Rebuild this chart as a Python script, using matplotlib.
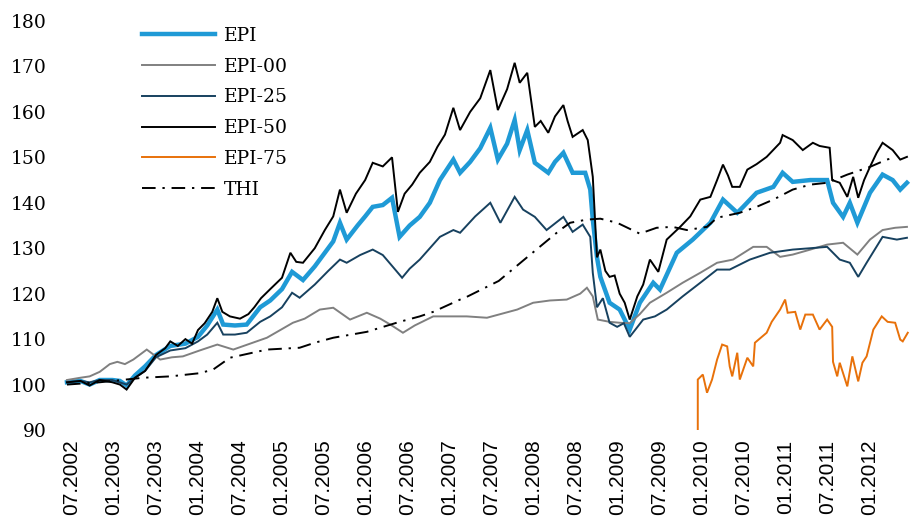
import matplotlib
matplotlib.use("Agg")
import matplotlib.pyplot as plt

# ---- data (decimal year, index value) ----
epi = [(2002.44, 100.5), (2002.60, 100.8), (2002.71, 100), (2002.83, 101), (2002.98, 101),
       (2003.07, 100.8), (2003.15, 99.8), (2003.25, 102), (2003.37, 104), (2003.50, 106.5),
       (2003.67, 108.5), (2003.85, 109), (2004.00, 110.5), (2004.11, 113), (2004.23, 116.5),
       (2004.30, 113.2), (2004.44, 113), (2004.58, 113.2), (2004.74, 117), (2004.86, 118.5),
       (2005.00, 121), (2005.12, 124.8), (2005.25, 123), (2005.39, 126), (2005.51, 129),
       (2005.61, 131.5), (2005.69, 135.6), (2005.77, 131.9), (2005.90, 135), (2005.99, 137),
       (2006.08, 139.1), (2006.20, 139.5), (2006.31, 141.1), (2006.40, 132.5), (2006.52, 135),
       (2006.64, 136.9), (2006.76, 140), (2006.88, 145), (2007.04, 149.5), (2007.12, 146.6),
       (2007.24, 149), (2007.36, 152), (2007.48, 156.5), (2007.57, 149.5), (2007.68, 153),
       (2007.77, 158.2), (2007.83, 151.6), (2007.92, 156), (2008.01, 148.8), (2008.17, 146.6),
       (2008.25, 149), (2008.35, 151), (2008.46, 146.6), (2008.61, 146.6), (2008.67, 142.9),
       (2008.70, 136.3), (2008.75, 128), (2008.79, 123.7), (2008.90, 118), (2009.02, 116.5),
       (2009.14, 112.1), (2009.26, 118), (2009.42, 122.4), (2009.50, 120.9), (2009.70, 129),
       (2009.89, 131.9), (2010.10, 135.6), (2010.25, 140.7), (2010.42, 137.8), (2010.49, 139.1),
       (2010.65, 142.2), (2010.85, 143.5), (2010.96, 146.6), (2011.08, 144.6), (2011.29, 145),
       (2011.49, 145), (2011.56, 140), (2011.68, 136.9), (2011.76, 140), (2011.85, 135.6),
       (2012.00, 142.2), (2012.15, 146.2), (2012.27, 145), (2012.36, 142.9), (2012.44, 144.4)]

epi00 = [(2002.44, 101), (2002.60, 101.5), (2002.71, 101.8), (2002.83, 102.8), (2002.95, 104.5),
         (2003.04, 105), (2003.13, 104.5), (2003.23, 105.5), (2003.39, 107.7), (2003.55, 105.5),
         (2003.69, 106), (2003.82, 106.2), (2004.02, 107.5), (2004.23, 108.8), (2004.42, 107.7),
         (2004.62, 109), (2004.82, 110.3), (2004.98, 112), (2005.13, 113.6), (2005.27, 114.5),
         (2005.45, 116.5), (2005.61, 116.9), (2005.81, 114.3), (2006.01, 115.8), (2006.17, 114.5),
         (2006.29, 113.2), (2006.44, 111.4), (2006.58, 113), (2006.80, 115), (2007.00, 115),
         (2007.20, 115), (2007.44, 114.7), (2007.60, 115.5), (2007.80, 116.5), (2007.99, 118),
         (2008.19, 118.5), (2008.39, 118.7), (2008.55, 120), (2008.63, 121.3), (2008.70, 119.4),
         (2008.76, 114.3), (2008.90, 113.8), (2009.02, 113.6), (2009.14, 113.5), (2009.26, 115.5),
         (2009.38, 118), (2009.58, 120.2), (2009.77, 122.4), (2009.98, 124.6), (2010.18, 126.8),
         (2010.37, 127.5), (2010.61, 130.3), (2010.77, 130.3), (2010.93, 128.1), (2011.08, 128.6),
         (2011.29, 129.7), (2011.49, 130.8), (2011.68, 131.2), (2011.85, 128.6), (2012.00, 131.9),
         (2012.15, 134), (2012.30, 134.5), (2012.44, 134.7)]

epi25 = [(2002.44, 100.5), (2002.60, 100.8), (2002.71, 100.5), (2002.83, 101), (2002.98, 101),
         (2003.15, 100), (2003.25, 101.5), (2003.37, 103), (2003.50, 106), (2003.67, 107.5),
         (2003.85, 108), (2004.00, 109.5), (2004.11, 111), (2004.23, 113.6), (2004.30, 111),
         (2004.44, 111), (2004.58, 111.4), (2004.74, 113.8), (2004.86, 115), (2005.00, 117),
         (2005.12, 120.2), (2005.21, 119.1), (2005.39, 122), (2005.55, 125), (2005.69, 127.5),
         (2005.77, 126.8), (2005.93, 128.5), (2006.08, 129.7), (2006.20, 128.5), (2006.32, 125.9),
         (2006.43, 123.5), (2006.52, 125.5), (2006.64, 127.5), (2006.76, 130), (2006.88, 132.5),
         (2007.04, 134), (2007.12, 133.4), (2007.30, 137), (2007.48, 140), (2007.60, 135.6),
         (2007.77, 141.3), (2007.87, 138.5), (2008.01, 136.9), (2008.15, 134), (2008.35, 136.9),
         (2008.46, 133.6), (2008.58, 135.2), (2008.67, 132.5), (2008.70, 124.6), (2008.75, 117),
         (2008.82, 119), (2008.90, 113.6), (2008.99, 112.7), (2009.07, 113.5), (2009.14, 110.5),
         (2009.30, 114.3), (2009.44, 115), (2009.58, 116.5), (2009.77, 119.4), (2009.98, 122.4),
         (2010.18, 125.3), (2010.33, 125.3), (2010.57, 127.5), (2010.81, 129), (2011.08, 129.7),
         (2011.29, 130), (2011.49, 130.3), (2011.64, 127.5), (2011.76, 126.8), (2011.86, 123.7),
         (2011.96, 126.8), (2012.15, 132.5), (2012.32, 131.9), (2012.44, 132.3)]

epi50 = [(2002.44, 100.5), (2002.60, 100.8), (2002.71, 99.8), (2002.83, 101), (2002.98, 100.5),
         (2003.07, 100), (2003.15, 98.9), (2003.25, 101.5), (2003.37, 103), (2003.50, 106.5),
         (2003.61, 108), (2003.67, 109.5), (2003.76, 108.5), (2003.85, 110), (2003.93, 109),
         (2004.00, 112), (2004.08, 113.5), (2004.17, 116), (2004.23, 119), (2004.29, 116),
         (2004.38, 115), (2004.50, 114.5), (2004.60, 115.5), (2004.67, 117), (2004.75, 119),
         (2004.86, 121), (2005.00, 123.5), (2005.10, 129), (2005.17, 127), (2005.25, 126.8),
         (2005.39, 130), (2005.51, 134), (2005.61, 137), (2005.69, 142.9), (2005.77, 137.8),
         (2005.88, 142), (2005.99, 145), (2006.08, 148.8), (2006.20, 148), (2006.31, 150),
         (2006.38, 138), (2006.46, 142), (2006.55, 144), (2006.64, 146.6), (2006.76, 149),
         (2006.85, 152.3), (2006.94, 155), (2007.04, 160.9), (2007.12, 156), (2007.24, 160),
         (2007.36, 163), (2007.48, 169.2), (2007.57, 160.4), (2007.68, 165), (2007.77, 170.8),
         (2007.83, 166.4), (2007.92, 168.6), (2008.01, 156.7), (2008.08, 158), (2008.17, 155.4),
         (2008.25, 159), (2008.35, 161.5), (2008.40, 158), (2008.46, 154.5), (2008.58, 156),
         (2008.64, 153.8), (2008.70, 145.7), (2008.75, 128), (2008.79, 129.7), (2008.85, 125),
         (2008.90, 123.7), (2008.96, 124), (2009.02, 120), (2009.08, 118), (2009.14, 114.3),
         (2009.23, 119.4), (2009.30, 122), (2009.38, 127.5), (2009.48, 124.8), (2009.58, 131.9),
         (2009.74, 134.7), (2009.86, 137), (2009.98, 140.7), (2010.10, 141.3), (2010.18, 145),
         (2010.25, 148.4), (2010.31, 146), (2010.36, 143.5), (2010.45, 143.5), (2010.54, 147.3),
         (2010.65, 148.5), (2010.77, 150.1), (2010.93, 153.2), (2010.96, 154.9), (2011.08, 153.8),
         (2011.20, 151.6), (2011.32, 153.2), (2011.40, 152.5), (2011.52, 152.1), (2011.55, 145),
         (2011.64, 144.4), (2011.73, 141.3), (2011.80, 145.7), (2011.86, 141.1), (2011.93, 145),
         (2012.00, 147.9), (2012.08, 151), (2012.15, 153.2), (2012.27, 151.6), (2012.36, 149.5),
         (2012.44, 150.1)]

epi75 = [(2009.95, 90), (2009.95, 101.1), (2010.01, 102.2), (2010.06, 98.2), (2010.12, 101.1),
         (2010.18, 105.5), (2010.24, 108.8), (2010.30, 108.4), (2010.33, 104), (2010.36, 101.8),
         (2010.42, 107), (2010.45, 101.1), (2010.54, 105.9), (2010.61, 104), (2010.63, 109.2),
         (2010.77, 111.4), (2010.83, 113.8), (2010.93, 116.5), (2010.99, 118.7), (2011.02, 115.8),
         (2011.11, 116), (2011.17, 112.1), (2011.23, 115.4), (2011.32, 115.4), (2011.40, 112.1),
         (2011.49, 114.3), (2011.55, 112.7), (2011.56, 105), (2011.61, 101.8), (2011.64, 104.8),
         (2011.73, 99.6), (2011.79, 106.2), (2011.86, 100.7), (2011.91, 104.8), (2011.96, 106.2),
         (2012.04, 112.1), (2012.14, 115), (2012.21, 113.8), (2012.30, 113.6), (2012.36, 109.9),
         (2012.39, 109.5), (2012.45, 111.4)]

thi = [(2002.44, 100), (2002.83, 100.5), (2003.35, 101.5), (2003.67, 101.8), (2004.02, 102.5),
       (2004.18, 103.3), (2004.38, 105.9), (2004.82, 107.7), (2005.21, 108.1), (2005.39, 109.2),
       (2005.61, 110.3), (2006.01, 111.6), (2006.40, 113.8), (2006.64, 115), (2006.80, 116),
       (2007.12, 118.7), (2007.20, 119.3), (2007.58, 122.8), (2007.95, 128.5), (2008.31, 134),
       (2008.43, 135.6), (2008.63, 136.3), (2008.79, 136.5), (2008.99, 135.6), (2009.26, 133.2),
       (2009.46, 134.5), (2009.65, 134.7), (2009.82, 134), (2010.06, 134.7), (2010.18, 136.7),
       (2010.45, 137.8), (2010.65, 139.1), (2010.85, 140.7), (2011.08, 142.9), (2011.29, 144),
       (2011.49, 144.4), (2011.73, 146.2), (2012.00, 147.9), (2012.20, 149.5), (2012.30, 150)]

tick_pos = [2002.5 + 0.5 * i for i in range(20)]
tick_labels = []
for p in tick_pos:
    yr = int(p)
    tick_labels.append(("07." if p - yr > 0.25 else "01.") + str(yr))

y_ticks = list(range(90, 181, 10))

# ---- drawing ----
fig = plt.figure(figsize=(9.2, 5.27), dpi=100)
ax = fig.add_axes([62 / 920, 1 - 430 / 527, (915 - 62) / 920, (430 - 21) / 527])

series = [
    ("EPI", epi, dict(color="#1F9AD6", lw=3.2, ls="-")),
    ("EPI-00", epi00, dict(color="#808080", lw=1.4, ls="-")),
    ("EPI-25", epi25, dict(color="#17415F", lw=1.4, ls="-")),
    ("EPI-50", epi50, dict(color="#000000", lw=1.4, ls="-")),
    ("EPI-75", epi75, dict(color="#E8710A", lw=1.4, ls="-")),
    ("THI", thi, dict(color="#000000", lw=1.4, ls=(0, (7, 3.5, 1.2, 3.5)))),
]
for name, data, st in series:
    xs = [d[0] for d in data]
    ys = [d[1] for d in data]
    ax.plot(xs, ys, label=name, solid_joinstyle="miter", **st)

ax.set_xlim(2002.381, 2012.536)
ax.set_ylim(90, 180)
ax.set_yticks(y_ticks)
ax.set_yticklabels([str(v) for v in y_ticks], fontfamily="DejaVu Serif", fontsize=13.5)
ax.set_xticks(tick_pos)
ax.set_xticklabels(tick_labels, rotation=90, fontfamily="Liberation Sans", fontsize=15)
ax.tick_params(axis="both", length=0)
ax.tick_params(axis="y", pad=11)
ax.tick_params(axis="x", pad=7)
for s in ax.spines.values():
    s.set_visible(False)

leg = fig.legend(loc="upper left", bbox_to_anchor=(142 / 920, 1 - 27 / 527),
                 frameon=False, prop={"family": "DejaVu Serif", "size": 13.5},
                 handlelength=3.9, handletextpad=0.45, labelspacing=0.68,
                 borderaxespad=0, borderpad=0)

fig.savefig("out.png", dpi=100)
